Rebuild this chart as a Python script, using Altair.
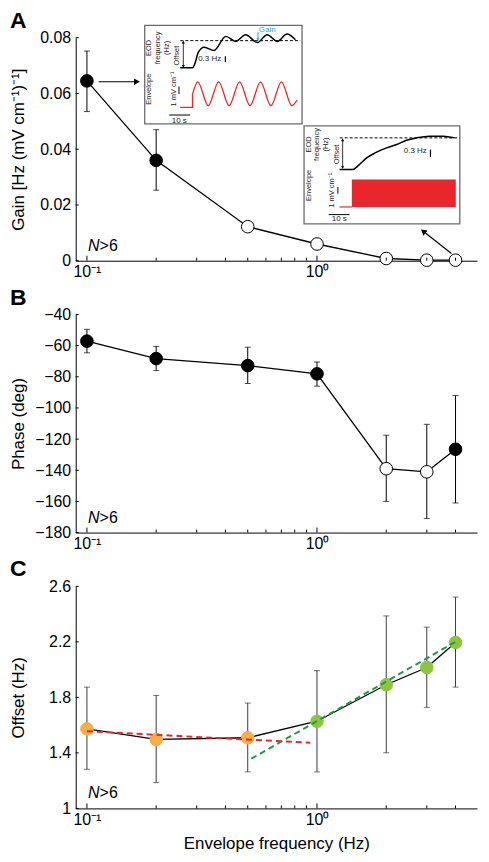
import altair as alt
import pandas as pd

# ---------------- data ----------------
freq = [0.1, 0.2, 0.5, 1, 2, 3, 4]

gain_mean = [0.0645, 0.0360, 0.0122, 0.0060, 0.0008, 0.0002, 0.0002]
gain_lo = [0.0535, 0.0253, 0.0112, 0.0055, 0.0006, 0.0001, 0.0001]
gain_hi = [0.0752, 0.0470, 0.0138, 0.0065, 0.0010, 0.0003, 0.0003]
gain_filled = [True, True, False, False, False, False, False]

phase_mean = [-57.1, -68.3, -72.8, -78.1, -139.0, -141.0, -126.5]
phase_lo = [-64.6, -76.0, -84.3, -86.0, -160.0, -171.0, -161.0]
phase_hi = [-49.5, -60.5, -61.0, -70.5, -117.5, -110.5, -92.0]
phase_filled = [True, True, True, True, False, False, True]

offset_mean = [1.573, 1.497, 1.509, 1.628, 1.891, 2.015, 2.196]
offset_lo = [1.282, 1.186, 1.263, 1.263, 1.401, 1.728, 1.874]
offset_hi = [1.874, 1.814, 1.759, 1.993, 2.387, 2.306, 2.523]
offset_low_range = [True, True, True, False, False, False, False]

fit_low_f = [0.1, 0.935]
fit_low_y = [1.556, 1.473]
fit_high_f = [0.518, 4.0]
fit_high_y = [1.358, 2.2]

major_ticks = [0.1, 1]
minor_ticks = [0.2, 0.3, 0.4, 0.5, 0.6, 0.7, 0.8, 0.9, 2, 3, 4]
gain_ticks = [0, 0.02, 0.04, 0.06, 0.08]
phase_ticks = [-180, -160, -140, -120, -100, -80, -60, -40]
offset_ticks = [1, 1.4, 1.8, 2.2, 2.6]

# inset 1 (0.1 Hz stimulation): time in s, EOD change in Hz, envelope in mV/cm
eod1_t = [-5.9, 0, 1.3, 2.7, 5.6, 10.3, 15.9, 20.7, 25.4, 31.0, 35.7, 40.5, 45.2, 49.2]
eod1_v = [0, 0, 0.28, 0.82, 1.10, 0.93, 1.69, 1.42, 1.78, 1.36, 1.78, 1.42, 1.82, 1.51]
eod1_offset = 1.46
env1_step_t = [-5.9, 0, 0]
env1_step_v = [0, 0, 0.55]
env1_t = [0, 2.5, 7.5, 12.5, 17.5, 22.5, 27.5, 32.5, 37.5, 42.5, 47.5, 50]
env1_v = [0.55, 1.07, 0.07, 1.07, 0.07, 1.07, 0.07, 1.07, 0.07, 1.07, 0.07, 0.3]

# inset 2 (4 Hz stimulation)
eod2_t = [-5.9, 0.5, 3.2, 7.1, 11.1, 16.6, 21.4, 26.1, 30.9, 37.2, 43.6, 49.1]
eod2_v = [0, 0, 0.17, 0.48, 0.69, 0.90, 1.04, 1.22, 1.32, 1.39, 1.39, 1.32]
eod2_offset = 1.32
env2_base_t = [-5.9, 0]
env2_amp = 1.15
env2_end = 49.7

# arrows pointing to insets (in data units of panel A)
arrow1_f = [0.1124, 0.165]
arrow1_g = [0.0642, 0.0642]
arrow2_f = [3.84, 2.896]
arrow2_g = [0.0026, 0.01054]

# ---------------- style ----------------
FONT = "Liberation Sans"
W = 403
HA, HB, HC = 224, 219, 223
XDOM = [0.0894, 4.96]
LBL = "datum.value < 0.5 ? '10\u207b\u00b9' : '10\u2070'"
ONE = pd.DataFrame({"k": [0]})


def txt(s, x, y, size=7.5, angle=0, color="#222222", weight="normal",
        align="center", baseline="middle", style="normal"):
    return alt.Chart(ONE).mark_text(
        text=s, fontSize=size, angle=angle, color=color, font=FONT, align=align,
        baseline=baseline, fontWeight=weight, fontStyle=style
    ).encode(x=alt.value(x), y=alt.value(y))


def make_main(mean, lo, hi, fills, strokes, err_color, ydom, H, yticks, ytitle,
              letter, fmt, xtitle=""):
    df = pd.DataFrame({"f": freq, "m": mean, "lo": lo, "hi": hi,
                       "fc": fills, "sc": strokes})
    xs = alt.Scale(type="log", domain=XDOM, nice=False)
    xkw = dict(values=major_ticks, labelExpr=LBL, ticks=False, grid=False,
               labelPadding=3)
    if xtitle:
        xkw.update(titleY=35, titleBaseline="middle")
    xaxis = alt.Axis(**xkw)
    ys = alt.Scale(domain=ydom, nice=False, zero=False)
    yaxis = alt.Axis(values=yticks, format=fmt, ticks=False, grid=False,
                     labelPadding=5, titleX=-57, titleY=H / 2, titleAngle=270,
                     titleAlign="center", titleBaseline="middle")

    def X(fld):
        return alt.X(fld, type="quantitative", scale=xs, axis=xaxis, title=xtitle)

    def Y(fld):
        return alt.Y(fld, type="quantitative", scale=ys, axis=yaxis, title=ytitle)

    line = alt.Chart(df).mark_line(color="black", strokeWidth=1.3).encode(x=X("f"), y=Y("m"))
    err = alt.Chart(df).mark_rule(color=err_color, strokeWidth=1).encode(
        x=X("f"), y=Y("lo"), y2="hi")
    cap_lo = alt.Chart(df).mark_tick(orient="horizontal", size=6, thickness=1,
                                     color=err_color).encode(x=X("f"), y=Y("lo"))
    cap_hi = alt.Chart(df).mark_tick(orient="horizontal", size=6, thickness=1,
                                     color=err_color).encode(x=X("f"), y=Y("hi"))
    pts = alt.Chart(df).mark_circle(size=160, opacity=1, strokeWidth=1).encode(
        x=X("f"), y=Y("m"),
        fill=alt.Fill("fc:N", scale=None), stroke=alt.Stroke("sc:N", scale=None))
    tmaj = alt.Chart(pd.DataFrame({"f": major_ticks})).mark_rule(
        color="black", strokeWidth=1).encode(x=X("f"), y=alt.value(H), y2=alt.value(H - 5))
    tmin = alt.Chart(pd.DataFrame({"f": minor_ticks})).mark_rule(
        color="black", strokeWidth=1).encode(x=X("f"), y=alt.value(H), y2=alt.value(H - 3))
    ytk = alt.Chart(pd.DataFrame({"v": yticks})).mark_rule(
        color="black", strokeWidth=1).encode(y=Y("v"), x=alt.value(0), x2=alt.value(3))
    n1 = txt("N", 24, H - 15, size=16, color="black", align="right", style="italic")
    n2 = txt(">6", 24, H - 15, size=16, color="black", align="left")
    let = txt(letter, -66, -28, size=23, color="black", weight="bold",
              align="left", baseline="top")
    return df, X, Y, [line, err, cap_lo, cap_hi, pts, tmaj, tmin, ytk, n1, n2, let]


# ---------------- panel A ----------------
dfA, XA, YA, layersA = make_main(
    gain_mean, gain_lo, gain_hi,
    ["black" if f else "white" for f in gain_filled],
    ["black"] * 7, "black", [0, 0.08], HA, gain_ticks,
    "Gain [Hz (mV cm\u207b\u00b9)\u207b\u00b9]", "A", "~g")

box1 = alt.Chart(ONE).mark_rect(fill="white", stroke="#6b6b6b", strokeWidth=1.3).encode(
    x=alt.value(69.3), x2=alt.value(227.3), y=alt.value(-12.3), y2=alt.value(86.5))
box2 = alt.Chart(ONE).mark_rect(fill="white", stroke="#6b6b6b", strokeWidth=1.3).encode(
    x=alt.value(229.3), x2=alt.value(385.7), y=alt.value(88.5), y2=alt.value(187))

dfar1 = pd.DataFrame({"f": arrow1_f, "m": arrow1_g})
ar1 = alt.Chart(dfar1).mark_line(color="black", strokeWidth=1.2).encode(x=XA("f"), y=YA("m"))
ar1h = alt.Chart(dfar1.iloc[[1]]).mark_point(shape="triangle-right", size=45, filled=True,
                                             color="black", opacity=1).encode(x=XA("f"), y=YA("m"))
dfar2 = pd.DataFrame({"f": arrow2_f, "m": arrow2_g})
ar2 = alt.Chart(dfar2).mark_line(color="black", strokeWidth=1.2).encode(x=XA("f"), y=YA("m"))
ar2h = alt.Chart(dfar2.iloc[[1]]).mark_point(shape="triangle-up", size=45, filled=True, angle=308,
                                             color="black", opacity=1).encode(x=XA("f"), y=YA("m"))

ins_txt = [
    txt("EOD", 74, 10.3, angle=270), txt("frequency", 82.3, 10.3, angle=270),
    txt("(Hz)", 91.7, 10.3, angle=270), txt("Offset", 102, 18, angle=270),
    txt("0.3 Hz", 134.5, 21.7, size=8), txt("Gain", 192.3, -7.8, size=8, color="#2aa9e0"),
    txt("Envelope", 74, 51.7, angle=270), txt("1 mV cm\u207b\u00b9", 99, 51.5, angle=270),
    txt("10 s", 104, 84, size=8),
    txt("EOD", 234, 107.3, angle=270), txt("frequency", 242.3, 107.3, angle=270),
    txt("(Hz)", 251.7, 107.3, angle=270), txt("Offset", 262.3, 117.3, angle=270),
    txt("0.3 Hz", 341, 114, size=8),
    txt("Envelope", 234, 148.3, angle=270), txt("1 mV cm\u207b\u00b9", 257.3, 153.3, angle=270),
    txt("10 s", 264.7, 182, size=8),
]
mvbar1 = alt.Chart(ONE).mark_rule(color="black", strokeWidth=1).encode(
    x=alt.value(103.7), y=alt.value(49), y2=alt.value(56.7))
mvbar2 = alt.Chart(ONE).mark_rule(color="black", strokeWidth=1).encode(
    x=alt.value(263.3), y=alt.value(150), y2=alt.value(156.7))

mainA = alt.layer(box1, box2, *layersA, ar1, ar1h, ar2, ar2h, *ins_txt, mvbar1, mvbar2)


def inset_layers(xs, yeod, yenv, eod_t, eod_v, off, bar_t, bar_lo, bar_hi, env_layers_fn,
                 gain=None):
    Xi = alt.X("t", type="quantitative", scale=xs, axis=None)
    Ye = alt.Y("v", type="quantitative", scale=yeod, axis=None)
    Yv = alt.Y("v", type="quantitative", scale=yenv, axis=None)
    eod = alt.Chart(pd.DataFrame({"t": eod_t, "v": eod_v})).mark_line(
        color="black", strokeWidth=1.5, interpolate="monotone").encode(x=Xi, y=Ye)
    dash = alt.Chart(pd.DataFrame({"t": [-5.8, 51.5], "v": [off, off]})).mark_line(
        color="black", strokeWidth=1, strokeDash=[3, 2]).encode(x=Xi, y=Ye)
    offr = alt.Chart(pd.DataFrame({"t": [-4.4, -4.4], "v": [0.08, off - 0.08]})).mark_line(
        color="black", strokeWidth=0.8).encode(x=Xi, y=Ye)
    offh1 = alt.Chart(pd.DataFrame({"t": [-4.4], "v": [off - 0.08]})).mark_point(
        shape="triangle-up", size=10, filled=True, color="black", opacity=1).encode(x=Xi, y=Ye)
    offh2 = alt.Chart(pd.DataFrame({"t": [-4.4], "v": [0.08]})).mark_point(
        shape="triangle-down", size=10, filled=True, color="black", opacity=1).encode(x=Xi, y=Ye)
    bar = alt.Chart(pd.DataFrame({"t": [bar_t, bar_t], "v": [bar_lo, bar_hi]})).mark_line(
        color="black", strokeWidth=1.2).encode(x=Xi, y=Ye)
    eod_layers = [eod, dash, offr, offh1, offh2, bar]
    if gain is not None:
        gt, g0, g1 = gain
        eod_layers.append(alt.Chart(pd.DataFrame({"t": [gt, gt], "v": [g0, g1 + 0.06]})).mark_line(
            color="#2aa9e0", strokeWidth=1).encode(x=Xi, y=Ye))
        eod_layers.append(alt.Chart(pd.DataFrame({"t": [gt], "v": [g1 + 0.06]})).mark_point(
            shape="triangle-down", size=10, filled=True, color="#2aa9e0", opacity=1).encode(x=Xi, y=Ye))
    tbar = alt.Chart(pd.DataFrame({"t": [-11.1, -1.1], "v": [-0.32, -0.32]})).mark_line(
        color="black", strokeWidth=1).encode(x=Xi, y=Yv)
    env_layers = env_layers_fn(Xi, Yv) + [tbar]
    return alt.layer(*eod_layers), alt.layer(*env_layers)


def env1_fn(Xi, Yv):
    step = alt.Chart(pd.DataFrame({"t": env1_step_t, "v": env1_step_v})).mark_line(
        color="#e8262c", strokeWidth=1.3).encode(x=Xi, y=Yv)
    sine = alt.Chart(pd.DataFrame({"t": env1_t, "v": env1_v})).mark_line(
        color="#e8262c", strokeWidth=1.3, interpolate="monotone").encode(x=Xi, y=Yv)
    return [step, sine]


def env2_fn(Xi, Yv):
    base = alt.Chart(pd.DataFrame({"t": env2_base_t, "v": [0, 0]})).mark_line(
        color="#e8262c", strokeWidth=1.2).encode(x=Xi, y=Yv)
    rect = alt.Chart(pd.DataFrame({"t": [0], "t2": [env2_end], "v": [0], "v2": [env2_amp]})).mark_rect(
        color="#e8262c", opacity=1).encode(x=Xi, x2="t2", y=Yv, y2="v2")
    return [base, rect]


i1_eod, i1_env = inset_layers(
    alt.Scale(domain=[0, 50], range=[117.3, 222.3], nice=False, zero=False),
    alt.Scale(domain=[0, 1.5], range=[30.3, 2.25], nice=False, zero=False),
    alt.Scale(domain=[0, 1], range=[70, 46], nice=False, zero=False),
    eod1_t, eod1_v, eod1_offset, 15.7, 0.32, 0.62, env1_fn, gain=(31.3, 1.93, eod1_offset))

i2_eod, i2_env = inset_layers(
    alt.Scale(domain=[0, 50], range=[277.3, 382.3], nice=False, zero=False),
    alt.Scale(domain=[0, 1], range=[132.3, 108.3], nice=False, zero=False),
    alt.Scale(domain=[0, 1], range=[170, 146], nice=False, zero=False),
    eod2_t, eod2_v, eod2_offset, 37.6, 0.525, 0.83, env2_fn)

panelA = alt.layer(mainA, i1_eod, i1_env, i2_eod, i2_env).resolve_scale(
    x="independent", y="independent").properties(width=W, height=HA)

# ---------------- panel B ----------------
_, XB, YB, layersB = make_main(
    phase_mean, phase_lo, phase_hi,
    ["black" if f else "white" for f in phase_filled],
    ["black"] * 7, "black", [-180, -40], HB, phase_ticks, "Phase (deg)", "B", "d")
panelB = alt.layer(*layersB).properties(width=W, height=HB)

# ---------------- panel C ----------------
ORANGE, GREEN = "#f9ad45", "#8cc63f"
cfill = [ORANGE if g else GREEN for g in offset_low_range]
_, XC, YC, layersC = make_main(
    offset_mean, offset_lo, offset_hi, cfill, cfill, "#3a3a3a", [1, 2.6], HC,
    offset_ticks, "Offset (Hz)", "C", "~g", xtitle="Envelope frequency (Hz)")
fit1 = alt.Chart(pd.DataFrame({"f": fit_low_f, "m": fit_low_y})).mark_line(
    color="#e8262c", strokeWidth=2, strokeDash=[6, 4]).encode(x=XC("f"), y=YC("m"))
fit2 = alt.Chart(pd.DataFrame({"f": fit_high_f, "m": fit_high_y})).mark_line(
    color="#1e9a48", strokeWidth=2, strokeDash=[6, 4]).encode(x=XC("f"), y=YC("m"))
panelC = alt.layer(*layersC, fit1, fit2).properties(width=W, height=HC)

chart = alt.vconcat(panelA, panelB, panelC, spacing=54, bounds="flush").properties(
    padding={"left": 2, "top": 0, "right": 4, "bottom": 4}
).configure_view(strokeWidth=0).configure_axis(
    labelFont=FONT, titleFont=FONT, labelFontSize=16, titleFontSize=17,
    titleFontWeight="normal", labelColor="black", titleColor="black",
    domainColor="black", domainWidth=1)

chart.save("out.html", embed_options={"renderer": "svg", "actions": False})
